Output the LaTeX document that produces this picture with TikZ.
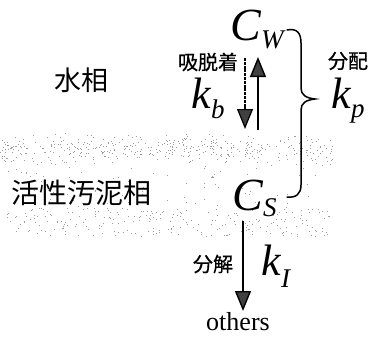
\documentclass[tikz,border=0pt]{standalone}
\usepackage{fontspec}
\setmainfont{Liberation Serif}
\newfontfamily\jp{Noto Sans CJK JP}
\newfontfamily\jpbold{Noto Sans CJK JP}[FakeBold=0.6]
\usetikzlibrary{arrows.meta}
\newcommand\fsz[1]{\fontsize{#1}{#1}\selectfont}
\tikzset{
  lbl/.style={inner sep=0pt, outer sep=0pt},
  jplbl/.style={lbl, font=\jpbold\fsz{20}},
  phase/.style={lbl, font=\jp\fsz{27}},
  flow/.style={line width=1.4pt, -{Triangle[length=20pt,width=16pt,fill=black!75]}, draw=black},
  brace/.style={line width=1.5pt, line cap=round},
  dot/.style={fill=black!38}
}
\begin{document}
\begin{tikzpicture}[x=1pt,y=-1pt]
\useasboundingbox (0,0) rectangle (370,340);
% stippled band of the sludge phase
\pgfmathsetseed{11}
\foreach \i in {1,...,420}{
  \pgfmathsetmacro\rx{335*rnd}\pgfmathsetmacro\ry{133+16*rnd+16*rnd}
  \fill[dot] (\rx,\ry) rectangle ++(1,1);
}
\foreach \i in {1,...,230}{
  \pgfmathsetmacro\rx{330*rnd}\pgfmathsetmacro\ry{208+28*rnd}
  \fill[dot] (\rx,\ry) rectangle ++(1,1);
}
\foreach \i in {1,...,110}{
  \pgfmathsetmacro\rx{330*rnd}\pgfmathsetmacro\ry{158+54*rnd}
  \fill[dot] (\rx,\ry) rectangle ++(1,1);
}
% phases
\node[phase] (water) at (81,80) {水相};
\node[phase,font=\jp\fsz{28}] (sludge) at (82,193) {活性汚泥相};
% concentrations
\node[lbl,anchor=base west] (cw) at (230,40) {\fsz{46}\textit{C}\raisebox{-8pt}{\fsz{27}\textit{W}}};
\node[lbl,anchor=base west] (cs) at (232,210) {\fsz{46}\textit{C}\raisebox{-6pt}{\fsz{27}\textit{S}}};
\node[lbl,anchor=base] (others) at (238,330) {\fsz{26}others};
% rate constants and their labels
\node[jplbl] (ads) at (208,62) {吸脱着};
\node[lbl,anchor=base west] (kb) at (191,108) {\fsz{44}\textit{k}\raisebox{-10pt}{\fsz{27}\textit{b}}};
\node[jplbl] (part) at (348,61) {分配};
\node[lbl,anchor=base west] (kp) at (331,108) {\fsz{44}\textit{k}\raisebox{-9pt}{\fsz{27}\textit{p}}};
\node[jplbl] (decomp) at (213,264) {分解};
\node[lbl,anchor=base west] (k1) at (261,275) {\fsz{44}\textit{k}\raisebox{-12pt}{\fsz{27}\textit{I}}};
% sorption / desorption arrows
\coordinate (dtop) at (245,58);
\coordinate (dbot) at (245,129);
\coordinate (utop) at (258,57);
\coordinate (ubot) at (258,130);
\draw[flow,line width=1.2pt,dash pattern=on 3pt off 0.8pt] (dtop) -- (dbot);
\draw[flow] (ubot) -- (utop);
% decomposition arrow
\coordinate (gtop) at (243,221);
\coordinate (gbot) at (243,311);
\draw[flow] (gtop) -- (gbot);
% partition brace
\coordinate (btop) at (287,30);
\coordinate (btip) at (315,99);
\coordinate (bbot) at (287,197);
\draw[brace] (btop) .. controls (297,28) and (301,33) .. (301,43) -- (301,88)
  .. controls (301,95) and (306,98) .. (btip)
  .. controls (306,100) and (301,103) .. (301,110) -- (301,185)
  .. controls (301,194) and (296,198) .. (bbot);
\end{tikzpicture}
\end{document}
